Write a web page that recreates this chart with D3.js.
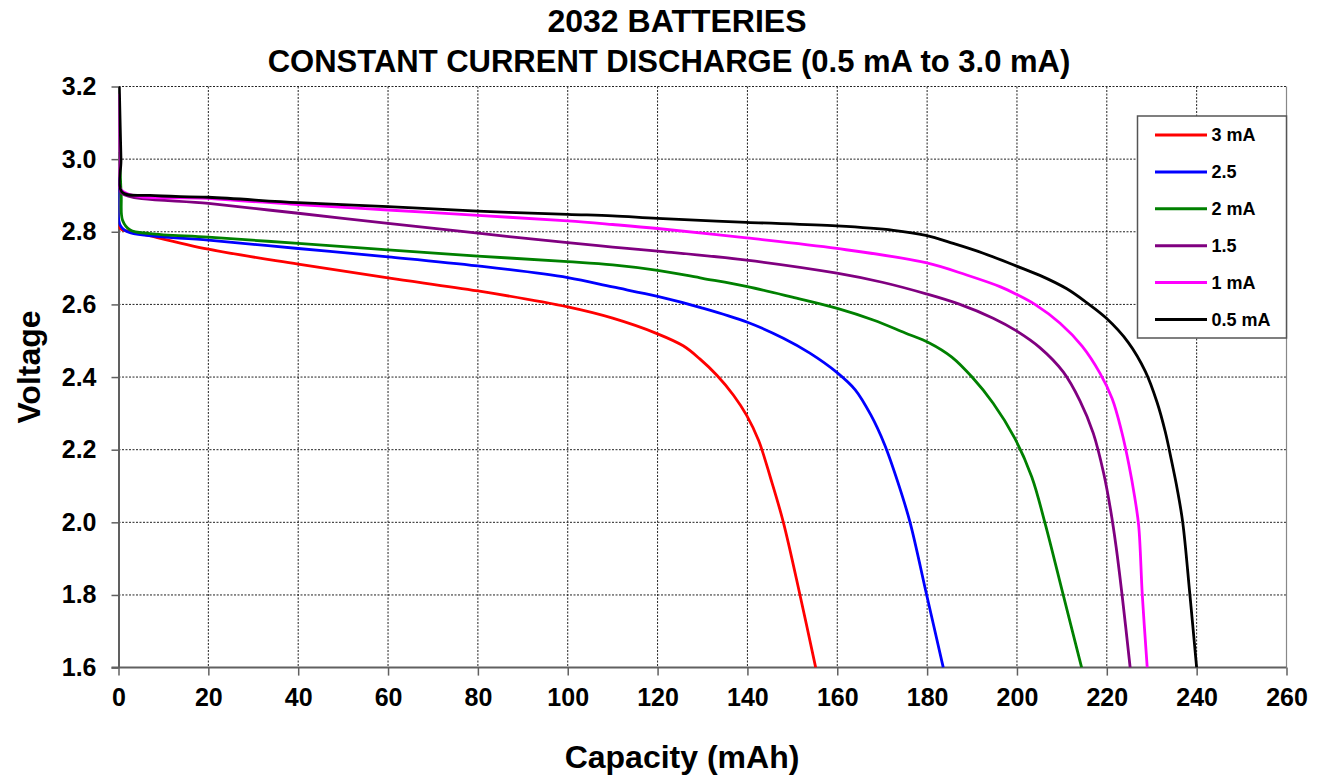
<!DOCTYPE html>
<html>
<head>
<meta charset="utf-8">
<script src="https://cdn.jsdelivr.net/npm/d3@7"></script>
<style>
  html, body { margin: 0; padding: 0; background: #fff; }
  svg { display: block; font-family: "Liberation Sans", Arial, sans-serif; font-weight: bold; }
</style>
</head>
<body>
<svg id="chart" width="1317" height="776"></svg>
<script>
// ---- data (capacity in mAh, voltage in V) ----
const titleLines = ["2032 BATTERIES", "CONSTANT CURRENT DISCHARGE (0.5 mA to 3.0 mA)"];
const xLabel = "Capacity (mAh)";
const yLabel = "Voltage";
const xTicks = [0, 20, 40, 60, 80, 100, 120, 140, 160, 180, 200, 220, 240, 260];
const yTicks = [1.6, 1.8, 2.0, 2.2, 2.4, 2.6, 2.8, 3.0, 3.2];
const seriesNames = ["3 mA", "2.5", "2 mA", "1.5", "1 mA", "0.5 mA"];
const seriesColors = ["#ff0000", "#0000ff", "#008000", "#800080", "#ff00ff", "#000000"];

const red3mA = [[0, 2.82], [0.5, 2.808], [5, 2.795], [20, 2.752], [40, 2.711], [60, 2.673], [80, 2.637], [100, 2.593], [110, 2.562], [120, 2.519], [125.7, 2.486], [129.4, 2.450], [133.2, 2.405], [136.9, 2.350], [139.8, 2.295], [142.5, 2.225], [145.2, 2.12], [148.0, 2.0], [151.7, 1.8], [155.2, 1.6]];
const blue25mA = [[0.1, 2.95], [0.3, 2.82], [2, 2.80], [20, 2.777], [40, 2.754], [60, 2.731], [80, 2.706], [100, 2.674], [110, 2.648], [120, 2.622], [130, 2.590], [140, 2.551], [148.0, 2.507], [153.9, 2.466], [159.9, 2.413], [164.0, 2.365], [167.5, 2.295], [170.5, 2.215], [173.5, 2.11], [176.2, 2.0], [179.9, 1.8], [183.6, 1.6]];
const green2mA = [[0.2, 3.02], [0.6, 2.90], [0.9, 2.832], [2.6, 2.805], [7, 2.795], [20, 2.785], [40, 2.768], [60, 2.750], [80, 2.733], [100, 2.718], [110, 2.709], [120, 2.694], [130, 2.672], [140, 2.649], [150, 2.620], [160, 2.589], [168, 2.557], [175, 2.522], [180.5, 2.494], [185.5, 2.455], [190, 2.400], [194.7, 2.328], [199.5, 2.232], [203.3, 2.125], [206.2, 2.0], [210.3, 1.8], [214.4, 1.6]];
const purple15mA = [[0.3, 2.93], [0.7, 2.906], [20, 2.878], [40, 2.851], [60, 2.823], [80, 2.796], [100, 2.770], [110, 2.758], [120, 2.747], [139.8, 2.722], [159.9, 2.686], [170, 2.661], [179.8, 2.629], [187.3, 2.600], [194.7, 2.562], [199.9, 2.527], [205.1, 2.481], [210.3, 2.414], [214.0, 2.335], [217.0, 2.245], [219.3, 2.135], [220.9, 2.03], [222.1, 1.93], [223.4, 1.8], [225.2, 1.6]];
const magenta1mA = [[0.1, 3.18], [0.3, 3.0], [0.6, 2.915], [20, 2.892], [40, 2.875], [60, 2.860], [80, 2.845], [100, 2.830], [110, 2.820], [120, 2.809], [139.8, 2.783], [159.9, 2.754], [179.7, 2.715], [188.8, 2.681], [196.2, 2.649], [200, 2.627], [204, 2.600], [209.6, 2.548], [214.5, 2.485], [218.5, 2.41], [221.2, 2.34], [223.3, 2.25], [224.9, 2.16], [226.2, 2.07], [227.1, 1.99], [227.9, 1.8], [229.0, 1.6]];
const black05mA = [[0.18, 3.2], [0.55, 3.0], [0.75, 2.91], [7, 2.90], [20, 2.895], [40, 2.880], [60, 2.869], [80, 2.857], [100, 2.848], [110, 2.844], [120, 2.837], [139.8, 2.826], [159.9, 2.816], [172.5, 2.804], [179.7, 2.790], [185.8, 2.768], [192.5, 2.741], [199.8, 2.706], [205.1, 2.680], [211.1, 2.643], [215.5, 2.605], [219.8, 2.563], [224.8, 2.495], [228.6, 2.415], [231.2, 2.33], [233.0, 2.25], [234.4, 2.17], [235.7, 2.09], [236.9, 2.0], [238.5, 1.8], [240.0, 1.6]];

const seriesData = [red3mA, blue25mA, green2mA, purple15mA, magenta1mA, black05mA];

// ---- layout ----
const svg = d3.select("#chart");
const plot = { left: 118.5, right: 1286.5, top: 86.5, bottom: 667.6 };

const x = d3.scaleLinear().domain([0, 260]).range([plot.left, plot.right]);
const y = d3.scaleLinear().domain([1.6, 3.2]).range([plot.bottom, plot.top]);

svg.append("rect").attr("width", 1317).attr("height", 776).attr("fill", "#fff");

// grid
const grid = svg.append("g");
grid.selectAll("line.vg").data(xTicks.filter(d => d > 0 && d < 260)).enter().append("line")
  .attr("x1", d => x(d)).attr("x2", d => x(d)).attr("y1", plot.top).attr("y2", plot.bottom)
  .attr("stroke", "#222").attr("stroke-width", 1).attr("stroke-dasharray", "2,1.5");
grid.selectAll("line.hg").data(yTicks.filter(d => d > 1.6)).enter().append("line")
  .attr("y1", d => y(d)).attr("y2", d => y(d)).attr("x1", plot.left).attr("x2", plot.right)
  .attr("stroke", "#222").attr("stroke-width", 1).attr("stroke-dasharray", "2,1.5");
// right border
svg.append("line").attr("x1", x(260)).attr("x2", x(260)).attr("y1", plot.top).attr("y2", plot.bottom)
  .attr("stroke", "#888").attr("stroke-width", 1.2);

// axes
const xAxis = d3.axisBottom(x).tickValues(xTicks).tickFormat(d3.format("d")).tickSize(8).tickSizeOuter(0).tickPadding(13);
const yAxis = d3.axisLeft(y).tickValues(yTicks).tickFormat(d3.format(".1f")).tickSize(7).tickSizeOuter(0).tickPadding(15);

const gx = svg.append("g").attr("transform", `translate(0,${plot.bottom})`).call(xAxis);
const gy = svg.append("g").attr("transform", `translate(${plot.left},0)`).call(yAxis);
[gx, gy].forEach(g => {
  g.select(".domain").attr("stroke", "#606060").attr("stroke-width", 2);
  g.selectAll(".tick line").attr("stroke", "#606060").attr("stroke-width", 1.5);
  g.selectAll(".tick text").attr("fill", "#000").style("font-size", "25px")
    .style("font-family", '"Liberation Sans", Arial, sans-serif').style("font-weight", "bold");
});
gx.select(".domain").attr("d", `M${plot.left - 7},0H${plot.right}`);

// lines
svg.append("clipPath").attr("id", "clip").append("rect")
  .attr("x", plot.left).attr("y", plot.top).attr("width", plot.right - plot.left).attr("height", plot.bottom - plot.top);

const line = d3.line().x(d => x(d[0])).y(d => y(d[1])).curve(d3.curveCatmullRom.alpha(0.5));
svg.append("g").attr("clip-path", "url(#clip)")
  .selectAll("path").data(seriesData).enter().append("path")
  .attr("d", line).attr("fill", "none")
  .attr("stroke", (d, i) => seriesColors[i]).attr("stroke-width", 2.8)
  .attr("stroke-linejoin", "round");

// title
svg.append("text").attr("x", 677).attr("y", 32).attr("text-anchor", "middle")
  .style("font-size", "32px").text(titleLines[0]);
svg.append("text").attr("x", 669).attr("y", 72).attr("text-anchor", "middle")
  .style("font-size", "31px").text(titleLines[1]);

// axis titles
svg.append("text").attr("x", 682).attr("y", 768).attr("text-anchor", "middle")
  .style("font-size", "32px").text(xLabel);
svg.append("text").attr("transform", "translate(40,367) rotate(-90)").attr("text-anchor", "middle")
  .style("font-size", "32px").text(yLabel);

// legend
const lg = svg.append("g");
lg.append("rect").attr("x", 1137.5).attr("y", 116).attr("width", 149).attr("height", 222)
  .attr("fill", "#fff").attr("stroke", "#555").attr("stroke-width", 1.5);
const rowY = i => 135 + i * 36.9;
seriesNames.forEach((name, i) => {
  lg.append("line").attr("x1", 1155).attr("x2", 1207).attr("y1", rowY(i)).attr("y2", rowY(i))
    .attr("stroke", seriesColors[i]).attr("stroke-width", 3);
  lg.append("text").attr("x", 1211.5).attr("y", rowY(i)).attr("dy", "0.36em")
    .style("font-size", "18px").text(name);
});
</script>
</body>
</html>
